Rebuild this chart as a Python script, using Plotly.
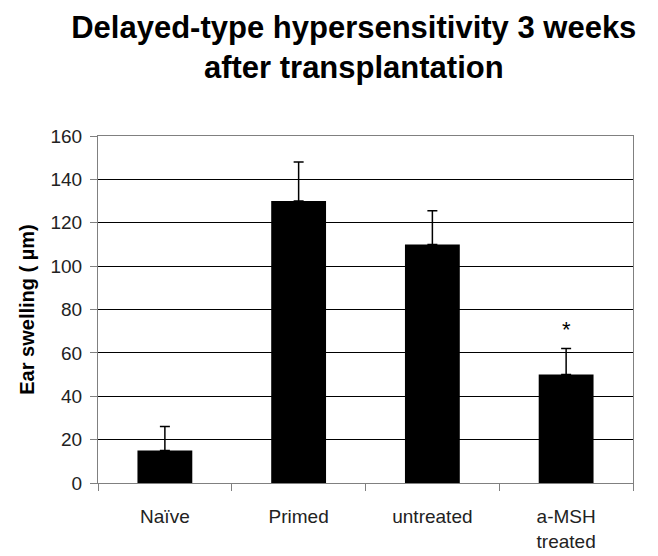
import plotly.graph_objects as go

categories = ["Naïve", "Primed", "untreated", "a-MSH<br>treated"]
means = [15, 130, 110, 50]
errors_up = [11, 18, 15.5, 12]
significance = ["", "", "", "*"]
sig_y = [None, None, None, 71]
y_ticks = [0, 20, 40, 60, 80, 100, 120, 140, 160]

FONT = "Arial, Liberation Sans, sans-serif"

fig = go.Figure()
fig.add_trace(go.Bar(
    x=categories, y=means,
    marker=dict(color="black", line=dict(width=0)),
    error_y=dict(type="data", symmetric=False, array=errors_up,
                 arrayminus=[0] * len(means), color="black",
                 thickness=1.5, width=5),
))

for c, s, yv in zip(categories, significance, sig_y):
    if s:
        fig.add_annotation(x=c, y=yv, text=s, showarrow=False,
                           font=dict(family=FONT, size=22, color="black"))

fig.update_layout(
    width=650, height=548,
    paper_bgcolor="white", plot_bgcolor="white",
    margin=dict(l=90, r=25, t=128, b=73),
    bargap=0.59,
    showlegend=False,
    title=dict(text="<b>Delayed-type hypersensitivity 3 weeks<br>after transplantation</b>",
               x=0.532, xanchor="center", xref="container",
               y=0.946, yanchor="middle", yref="container",
               font=dict(family=FONT, size=31, color="black")),
    font=dict(family=FONT, color="black"),
)

fig.update_xaxes(
    type="category", range=[-0.5, 3.5], automargin=False,
    tickson="boundaries", ticks="outside", ticklen=7, tickcolor="#808080",
    showline=True, linecolor="#808080", linewidth=1, mirror=True,
    showgrid=False, ticklabelstandoff=16,
    tickfont=dict(family=FONT, size=19, color="#222222"),
)
fig.update_yaxes(
    range=[0, 160], tickvals=y_ticks, automargin=False,
    ticks="outside", ticklen=7, tickcolor="#808080",
    showline=True, linecolor="#808080", linewidth=1, mirror=True,
    showgrid=True, gridcolor="black", gridwidth=1,
    zeroline=False, ticklabelstandoff=4,
    tickfont=dict(family=FONT, size=19, color="#222222"),
    title=dict(text="<b>Ear swelling ( µm)</b>", standoff=10,
               font=dict(family=FONT, size=20, color="black")),
)

fig.write_html("out.html")
